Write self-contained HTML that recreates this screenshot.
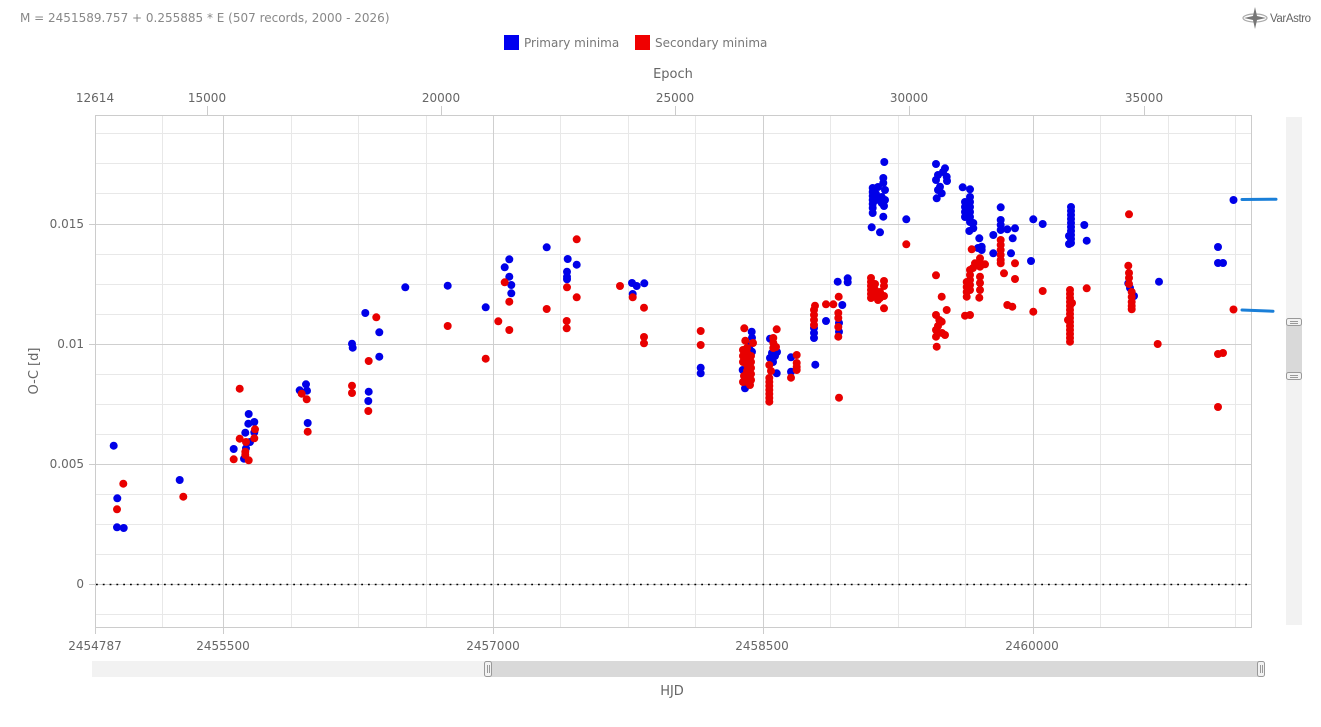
<!DOCTYPE html>
<html><head><meta charset="utf-8"><style>
html,body{margin:0;padding:0;background:#fff;}
svg{display:block;}
text{font-family:"DejaVu Sans","Liberation Sans",sans-serif;}
</style></head><body>
<svg width="1321" height="727" viewBox="0 0 1321 727" xmlns="http://www.w3.org/2000/svg">
<rect width="1321" height="727" fill="#fff"/>
<text x="20" y="22" font-size="12" fill="#888">M = 2451589.757 + 0.255885 * E (507 records, 2000 - 2026)</text>
<!-- logo -->
<g transform="translate(1255,18)">
<ellipse cx="0" cy="0" rx="12" ry="4" fill="none" stroke="#aaa" stroke-width="1.2"/>
<polygon points="0,-11 2,-2 11,0 2,2 0,11 -2,2 -11,0 -2,-2" fill="#777"/>
</g>
<text x="1270" y="22" font-size="11.5" fill="#666" font-family="Liberation Sans, sans-serif" letter-spacing="-0.4" style="font-family:'Liberation Sans',sans-serif">VarAstro</text>
<!-- legend -->
<rect x="504" y="35" width="15" height="15" fill="#0000f0"/>
<text x="524" y="47" font-size="12" fill="#777">Primary minima</text>
<rect x="635" y="35" width="15" height="15" fill="#f00000"/>
<text x="655" y="47" font-size="12" fill="#777">Secondary minima</text>
<text x="673" y="78" font-size="13" fill="#666" text-anchor="middle">Epoch</text>
<!-- top axis labels -->
<g font-size="12" fill="#666" text-anchor="middle">
<text x="95" y="102">12614</text>
<text x="207" y="102">15000</text>
<text x="441" y="102">20000</text>
<text x="675" y="102">25000</text>
<text x="909" y="102">30000</text>
<text x="1144" y="102">35000</text>
</g>
<g stroke="#ccc" stroke-width="1">
<line x1="207.5" y1="106" x2="207.5" y2="115"/>
<line x1="441.5" y1="106" x2="441.5" y2="115"/>
<line x1="675.5" y1="106" x2="675.5" y2="115"/>
<line x1="909.5" y1="106" x2="909.5" y2="115"/>
<line x1="1144.5" y1="106" x2="1144.5" y2="115"/>
</g>
<!-- grid minor -->
<g stroke="#e8e8e8" stroke-width="1">
<line x1="162.5" y1="115" x2="162.5" y2="627"/>
<line x1="291.5" y1="115" x2="291.5" y2="627"/>
<line x1="358.5" y1="115" x2="358.5" y2="627"/>
<line x1="426.5" y1="115" x2="426.5" y2="627"/>
<line x1="560.5" y1="115" x2="560.5" y2="627"/>
<line x1="628.5" y1="115" x2="628.5" y2="627"/>
<line x1="695.5" y1="115" x2="695.5" y2="627"/>
<line x1="830.5" y1="115" x2="830.5" y2="627"/>
<line x1="898.5" y1="115" x2="898.5" y2="627"/>
<line x1="965.5" y1="115" x2="965.5" y2="627"/>
<line x1="1100.5" y1="115" x2="1100.5" y2="627"/>
<line x1="1168.5" y1="115" x2="1168.5" y2="627"/>
<line x1="1235.5" y1="115" x2="1235.5" y2="627"/>
<line x1="95" y1="133.5" x2="1252" y2="133.5"/>
<line x1="95" y1="163.5" x2="1252" y2="163.5"/>
<line x1="95" y1="193.5" x2="1252" y2="193.5"/>
<line x1="95" y1="254.5" x2="1252" y2="254.5"/>
<line x1="95" y1="284.5" x2="1252" y2="284.5"/>
<line x1="95" y1="314.5" x2="1252" y2="314.5"/>
<line x1="95" y1="374.5" x2="1252" y2="374.5"/>
<line x1="95" y1="404.5" x2="1252" y2="404.5"/>
<line x1="95" y1="434.5" x2="1252" y2="434.5"/>
<line x1="95" y1="494.5" x2="1252" y2="494.5"/>
<line x1="95" y1="524.5" x2="1252" y2="524.5"/>
<line x1="95" y1="554.5" x2="1252" y2="554.5"/>
<line x1="95" y1="614.5" x2="1252" y2="614.5"/>
</g>
<g stroke="#cfcfcf" stroke-width="1">
<line x1="223.5" y1="115" x2="223.5" y2="627"/>
<line x1="493.5" y1="115" x2="493.5" y2="627"/>
<line x1="763.5" y1="115" x2="763.5" y2="627"/>
<line x1="1033.5" y1="115" x2="1033.5" y2="627"/>
<line x1="95" y1="224.5" x2="1252" y2="224.5"/>
<line x1="95" y1="344.5" x2="1252" y2="344.5"/>
<line x1="95" y1="464.5" x2="1252" y2="464.5"/>
<line x1="95" y1="584.5" x2="1252" y2="584.5"/>
</g>
<rect x="95.5" y="115.5" width="1156" height="512" fill="none" stroke="#ccc"/>
<!-- zero line -->
<line x1="96" y1="584.5" x2="1251" y2="584.5" stroke="#000" stroke-width="1.5" stroke-dasharray="1.8,5"/>
<!-- y labels -->
<g font-size="12" fill="#666" text-anchor="end">
<text x="84" y="228">0.015</text>
<text x="84" y="348">0.01</text>
<text x="84" y="468">0.005</text>
<text x="84" y="588">0</text>
</g>
<g stroke="#ccc"><line x1="89" y1="224.5" x2="95" y2="224.5"/><line x1="89" y1="344.5" x2="95" y2="344.5"/><line x1="89" y1="464.5" x2="95" y2="464.5"/><line x1="89" y1="584.5" x2="95" y2="584.5"/></g>
<text transform="translate(38,371) rotate(-90)" font-size="13" fill="#666" text-anchor="middle">O-C [d]</text>
<!-- bottom axis -->
<g stroke="#ccc"><line x1="95.5" y1="627" x2="95.5" y2="634"/><line x1="223.5" y1="627" x2="223.5" y2="634"/><line x1="493.5" y1="627" x2="493.5" y2="634"/><line x1="763.5" y1="627" x2="763.5" y2="634"/><line x1="1033.5" y1="627" x2="1033.5" y2="634"/></g>
<g font-size="12" fill="#666" text-anchor="middle">
<text x="95" y="650">2454787</text>
<text x="223" y="650">2455500</text>
<text x="493" y="650">2457000</text>
<text x="762" y="650">2458500</text>
<text x="1032" y="650">2460000</text>
</g>
<!-- navigator -->
<rect x="92" y="661" width="1170" height="16" fill="#f2f2f2"/>
<rect x="488" y="661" width="773" height="16" fill="#d9d9d9"/>
<g fill="#f2f2f2" stroke="#999" stroke-width="1">
<rect x="484.5" y="661.5" width="7" height="15" rx="2"/>
<rect x="1257.5" y="661.5" width="7" height="15" rx="2"/>
</g>
<g stroke="#999"><line x1="487.5" y1="665" x2="487.5" y2="673"/><line x1="489.5" y1="665" x2="489.5" y2="673"/><line x1="1260.5" y1="665" x2="1260.5" y2="673"/><line x1="1262.5" y1="665" x2="1262.5" y2="673"/></g>
<text x="672" y="695" font-size="13" fill="#666" text-anchor="middle">HJD</text>
<!-- right scrollbar -->
<rect x="1286" y="117" width="16" height="508" fill="#f2f2f2"/>
<rect x="1286" y="322" width="16" height="54" fill="#d9d9d9"/>
<g fill="#f2f2f2" stroke="#999">
<rect x="1286.5" y="318.5" width="15" height="7" rx="2"/>
<rect x="1286.5" y="372.5" width="15" height="7" rx="2"/>
</g>
<g stroke="#999"><line x1="1290" y1="321.5" x2="1298" y2="321.5"/><line x1="1290" y1="323.5" x2="1298" y2="323.5"/><line x1="1290" y1="375.5" x2="1298" y2="375.5"/><line x1="1290" y1="377.5" x2="1298" y2="377.5"/></g>
<!-- BLUE points -->
<g fill="#0000e8">
<circle cx="113.7" cy="445.7" r="4"/><circle cx="117.3" cy="498.3" r="4"/><circle cx="117" cy="527.3" r="4"/><circle cx="123.7" cy="528" r="4"/><circle cx="179.7" cy="480" r="4"/>
<circle cx="248.7" cy="414" r="4"/><circle cx="248.3" cy="423.7" r="4"/><circle cx="254.3" cy="422" r="4"/><circle cx="245.3" cy="432.7" r="4"/><circle cx="254.3" cy="432.3" r="4"/><circle cx="250" cy="442" r="4"/><circle cx="233.7" cy="449" r="4"/><circle cx="246" cy="448.3" r="4"/><circle cx="244" cy="458.7" r="4"/>
<circle cx="306" cy="384.3" r="4"/><circle cx="299.7" cy="390.3" r="4"/><circle cx="307" cy="390.7" r="4"/><circle cx="307.7" cy="423" r="4"/>
<circle cx="352" cy="343.7" r="4"/><circle cx="352.7" cy="347.7" r="4"/><circle cx="365.3" cy="313" r="4"/><circle cx="379.3" cy="332.3" r="4"/><circle cx="379.3" cy="356.7" r="4"/><circle cx="368.7" cy="391.7" r="4"/><circle cx="368.3" cy="401" r="4"/><circle cx="405.3" cy="287.3" r="4"/>
<circle cx="447.7" cy="285.7" r="4"/><circle cx="485.7" cy="307.3" r="4"/><circle cx="509.3" cy="259.3" r="4"/><circle cx="504.7" cy="267.3" r="4"/><circle cx="509.3" cy="276.7" r="4"/><circle cx="511.3" cy="285" r="4"/><circle cx="511.3" cy="293.3" r="4"/><circle cx="546.7" cy="247.3" r="4"/><circle cx="567.7" cy="259" r="4"/><circle cx="576.7" cy="264.7" r="4"/><circle cx="567" cy="271.7" r="4"/><circle cx="567" cy="276.7" r="4"/><circle cx="567" cy="279.3" r="4"/><circle cx="632" cy="283" r="4"/><circle cx="636.7" cy="286" r="4"/><circle cx="644.3" cy="283.3" r="4"/><circle cx="632.7" cy="294" r="4"/><circle cx="700.7" cy="367.7" r="4"/><circle cx="700.7" cy="373.3" r="4"/>
<circle cx="751.7" cy="331.7" r="4"/><circle cx="752" cy="337.7" r="4"/><circle cx="752" cy="351.7" r="4"/><circle cx="742.7" cy="370" r="4"/><circle cx="745" cy="388.3" r="4"/><circle cx="748" cy="355" r="4"/><circle cx="745" cy="362" r="4"/><circle cx="750" cy="345" r="4"/>
<circle cx="770" cy="338.7" r="4"/><circle cx="772" cy="353" r="4"/><circle cx="775" cy="356" r="4"/><circle cx="773" cy="362" r="4"/><circle cx="770" cy="358" r="4"/><circle cx="776.7" cy="373.3" r="4"/><circle cx="777" cy="352" r="4"/>
<circle cx="791" cy="357.3" r="4"/><circle cx="791" cy="371.7" r="4"/>
<circle cx="814" cy="328" r="4"/><circle cx="814" cy="333" r="4"/><circle cx="814" cy="338" r="4"/><circle cx="815.3" cy="364.7" r="4"/><circle cx="826" cy="321" r="4"/>
<circle cx="839" cy="323" r="4"/><circle cx="839" cy="331.7" r="4"/><circle cx="842.3" cy="305" r="4"/><circle cx="837.7" cy="281.7" r="4"/><circle cx="847.7" cy="278.3" r="4"/><circle cx="847.7" cy="282.3" r="4"/>
<circle cx="884.3" cy="162" r="4"/><circle cx="883.3" cy="178" r="4"/><circle cx="883.3" cy="183" r="4"/><circle cx="881.7" cy="197" r="4"/><circle cx="881.7" cy="203" r="4"/><circle cx="883.3" cy="216.7" r="4"/><circle cx="871.7" cy="227.3" r="4"/><circle cx="880" cy="232.3" r="4"/>
<circle cx="872.7" cy="188" r="4"/><circle cx="872.7" cy="192" r="4"/><circle cx="872.7" cy="196" r="4"/><circle cx="872.7" cy="200" r="4"/><circle cx="872.7" cy="204" r="4"/><circle cx="872.7" cy="208" r="4"/><circle cx="872.7" cy="213" r="4"/><circle cx="876" cy="194" r="4"/><circle cx="876" cy="200" r="4"/><circle cx="878" cy="187" r="4"/><circle cx="885" cy="190" r="4"/><circle cx="885" cy="200" r="4"/><circle cx="884" cy="206" r="4"/>
<circle cx="906.3" cy="219.3" r="4"/>
<circle cx="936" cy="164" r="4"/><circle cx="945" cy="168.3" r="4"/><circle cx="946.7" cy="176.7" r="4"/><circle cx="936" cy="180" r="4"/><circle cx="940" cy="186.7" r="4"/><circle cx="936.7" cy="198.3" r="4"/><circle cx="941.7" cy="193.3" r="4"/><circle cx="943" cy="172" r="4"/><circle cx="938" cy="175" r="4"/><circle cx="947" cy="181" r="4"/><circle cx="938" cy="190" r="4"/>
<circle cx="962.7" cy="187.3" r="4"/><circle cx="970" cy="189.3" r="4"/><circle cx="965" cy="202" r="4"/><circle cx="965" cy="207" r="4"/><circle cx="965" cy="212" r="4"/><circle cx="965" cy="217" r="4"/><circle cx="970" cy="197" r="4"/><circle cx="970" cy="202" r="4"/><circle cx="970" cy="207" r="4"/><circle cx="970" cy="212" r="4"/><circle cx="970" cy="217" r="4"/><circle cx="970" cy="222" r="4"/><circle cx="973.3" cy="223" r="4"/><circle cx="973.3" cy="228.3" r="4"/><circle cx="969.3" cy="231" r="4"/><circle cx="979.3" cy="238.3" r="4"/><circle cx="981.7" cy="246.7" r="4"/><circle cx="981.7" cy="250" r="4"/><circle cx="978" cy="248" r="4"/><circle cx="993.3" cy="235" r="4"/><circle cx="993.3" cy="253.3" r="4"/><circle cx="1000.7" cy="207.3" r="4"/><circle cx="1000.7" cy="220" r="4"/><circle cx="1000.7" cy="225" r="4"/><circle cx="1000.7" cy="230" r="4"/><circle cx="1007.3" cy="229.3" r="4"/><circle cx="1015" cy="228.3" r="4"/><circle cx="1012.7" cy="238.3" r="4"/><circle cx="1011" cy="253.3" r="4"/><circle cx="1033.3" cy="219.3" r="4"/><circle cx="1042.7" cy="224" r="4"/><circle cx="1031" cy="261" r="4"/>
<circle cx="1071" cy="207" r="4"/><circle cx="1071" cy="211" r="4"/><circle cx="1071" cy="215" r="4"/><circle cx="1071" cy="219" r="4"/><circle cx="1071" cy="223" r="4"/><circle cx="1071" cy="227" r="4"/><circle cx="1071" cy="231" r="4"/><circle cx="1071" cy="235" r="4"/><circle cx="1071" cy="239" r="4"/><circle cx="1071" cy="243" r="4"/><circle cx="1069" cy="236" r="4"/><circle cx="1069" cy="244" r="4"/><circle cx="1084.3" cy="225" r="4"/><circle cx="1086.7" cy="240.7" r="4"/>
<circle cx="1128.3" cy="283.3" r="4"/><circle cx="1132.3" cy="296.7" r="4"/><circle cx="1134" cy="296" r="4"/><circle cx="1130" cy="288" r="4"/>
<circle cx="1159" cy="281.7" r="4"/>
<circle cx="1218" cy="247" r="4"/><circle cx="1218" cy="263" r="4"/><circle cx="1223" cy="263" r="4"/><circle cx="1233.5" cy="200" r="4"/>
</g>
<!-- RED points -->
<g fill="#e80000">
<circle cx="123.3" cy="483.7" r="4"/><circle cx="117" cy="509.3" r="4"/><circle cx="183.3" cy="496.7" r="4"/>
<circle cx="239.7" cy="388.7" r="4"/><circle cx="239.7" cy="438.7" r="4"/><circle cx="255" cy="429.3" r="4"/><circle cx="254.3" cy="438.3" r="4"/><circle cx="246" cy="442" r="4"/><circle cx="245.3" cy="451.7" r="4"/><circle cx="245.3" cy="455" r="4"/><circle cx="233.7" cy="459.3" r="4"/><circle cx="248.7" cy="460.3" r="4"/>
<circle cx="301.7" cy="393.7" r="4"/><circle cx="306.7" cy="399.3" r="4"/><circle cx="307.7" cy="431.7" r="4"/>
<circle cx="376.3" cy="317.3" r="4"/><circle cx="368.7" cy="361" r="4"/><circle cx="352" cy="385.7" r="4"/><circle cx="352" cy="393" r="4"/><circle cx="368.3" cy="411" r="4"/>
<circle cx="447.7" cy="326" r="4"/><circle cx="485.7" cy="358.7" r="4"/><circle cx="504.7" cy="282.3" r="4"/><circle cx="509.3" cy="301.7" r="4"/><circle cx="498.3" cy="321.3" r="4"/><circle cx="509.3" cy="330" r="4"/><circle cx="576.7" cy="239.3" r="4"/><circle cx="567" cy="287.3" r="4"/><circle cx="576.7" cy="297.3" r="4"/><circle cx="546.7" cy="309" r="4"/><circle cx="566.7" cy="321" r="4"/><circle cx="566.7" cy="328.3" r="4"/><circle cx="620" cy="286" r="4"/><circle cx="632.7" cy="297.3" r="4"/><circle cx="644" cy="307.7" r="4"/><circle cx="644" cy="337" r="4"/><circle cx="644" cy="343.3" r="4"/><circle cx="700.7" cy="331" r="4"/><circle cx="700.7" cy="345" r="4"/>
<circle cx="744.3" cy="328.3" r="4"/><circle cx="745.3" cy="340.7" r="4"/>
<circle cx="743" cy="350" r="4"/><circle cx="743" cy="356" r="4"/><circle cx="743" cy="362" r="4"/><circle cx="744" cy="376" r="4"/><circle cx="743" cy="382" r="4"/>
<circle cx="747" cy="348" r="4"/><circle cx="747" cy="353" r="4"/><circle cx="747" cy="359" r="4"/><circle cx="747" cy="365" r="4"/><circle cx="747" cy="371" r="4"/><circle cx="747" cy="377" r="4"/><circle cx="747" cy="382" r="4"/>
<circle cx="751" cy="356" r="4"/><circle cx="751" cy="362" r="4"/><circle cx="751" cy="368" r="4"/><circle cx="751" cy="374" r="4"/><circle cx="751" cy="380" r="4"/><circle cx="750" cy="385" r="4"/><circle cx="753" cy="343" r="4"/>
<circle cx="776.7" cy="329.3" r="4"/><circle cx="773.3" cy="338" r="4"/><circle cx="773.3" cy="343" r="4"/><circle cx="773.3" cy="348" r="4"/><circle cx="776" cy="347" r="4"/><circle cx="769.3" cy="365" r="4"/><circle cx="769.3" cy="378" r="4"/><circle cx="769.3" cy="382" r="4"/><circle cx="769.3" cy="386" r="4"/><circle cx="769.3" cy="390" r="4"/><circle cx="769.3" cy="394" r="4"/><circle cx="769.3" cy="398" r="4"/><circle cx="769.3" cy="401.7" r="4"/><circle cx="771" cy="371" r="4"/>
<circle cx="796.7" cy="355" r="4"/><circle cx="796.7" cy="363" r="4"/><circle cx="796.7" cy="367" r="4"/><circle cx="796.7" cy="370" r="4"/><circle cx="791" cy="377.7" r="4"/>
<circle cx="815" cy="305.7" r="4"/><circle cx="814" cy="310" r="4"/><circle cx="814" cy="315" r="4"/><circle cx="814" cy="320" r="4"/><circle cx="814" cy="325" r="4"/><circle cx="826" cy="304.3" r="4"/><circle cx="833.3" cy="304.3" r="4"/>
<circle cx="838.7" cy="296.7" r="4"/><circle cx="838.3" cy="313" r="4"/><circle cx="838.3" cy="318" r="4"/><circle cx="838.3" cy="327" r="4"/><circle cx="838.3" cy="336.7" r="4"/><circle cx="839" cy="397.7" r="4"/>
<circle cx="871" cy="278" r="4"/><circle cx="871" cy="282" r="4"/><circle cx="871" cy="286" r="4"/><circle cx="871" cy="290" r="4"/><circle cx="871" cy="294" r="4"/><circle cx="871" cy="298" r="4"/><circle cx="875" cy="284" r="4"/><circle cx="875" cy="290" r="4"/><circle cx="875" cy="296" r="4"/><circle cx="884" cy="281" r="4"/><circle cx="884" cy="286" r="4"/><circle cx="880" cy="292" r="4"/><circle cx="884" cy="296" r="4"/><circle cx="880" cy="298" r="4"/><circle cx="884" cy="308.3" r="4"/><circle cx="878" cy="300" r="4"/>
<circle cx="906.3" cy="244.3" r="4"/>
<circle cx="936" cy="275.3" r="4"/><circle cx="941.7" cy="296.7" r="4"/><circle cx="946.7" cy="310" r="4"/><circle cx="936" cy="315" r="4"/><circle cx="939.3" cy="320" r="4"/><circle cx="941.7" cy="321.7" r="4"/><circle cx="936" cy="330" r="4"/><circle cx="936" cy="336.7" r="4"/><circle cx="945" cy="335" r="4"/><circle cx="936.7" cy="346.7" r="4"/><circle cx="938" cy="326" r="4"/><circle cx="942" cy="333" r="4"/>
<circle cx="971.7" cy="249.3" r="4"/><circle cx="980" cy="258.3" r="4"/><circle cx="980" cy="263" r="4"/><circle cx="980" cy="266.7" r="4"/><circle cx="985" cy="264.3" r="4"/><circle cx="975" cy="263.3" r="4"/><circle cx="970" cy="270" r="4"/><circle cx="970" cy="275" r="4"/><circle cx="970" cy="280" r="4"/><circle cx="970" cy="285" r="4"/><circle cx="970" cy="290" r="4"/><circle cx="966.7" cy="282" r="4"/><circle cx="966.7" cy="287" r="4"/><circle cx="966.7" cy="292" r="4"/><circle cx="966.7" cy="296.7" r="4"/><circle cx="965" cy="315.7" r="4"/><circle cx="970" cy="315" r="4"/><circle cx="980" cy="276.7" r="4"/><circle cx="980" cy="283" r="4"/><circle cx="980" cy="290" r="4"/><circle cx="979.3" cy="297.7" r="4"/><circle cx="973" cy="268" r="4"/>
<circle cx="1000.7" cy="240" r="4"/><circle cx="1000.7" cy="245" r="4"/><circle cx="1000.7" cy="250" r="4"/><circle cx="1000.7" cy="255" r="4"/><circle cx="1000.7" cy="260" r="4"/><circle cx="1000.7" cy="263.3" r="4"/><circle cx="1004" cy="273.3" r="4"/><circle cx="1007.3" cy="305" r="4"/><circle cx="1012.3" cy="306.7" r="4"/><circle cx="1015" cy="263.3" r="4"/><circle cx="1015" cy="279" r="4"/><circle cx="1033.3" cy="311.7" r="4"/><circle cx="1042.7" cy="291" r="4"/>
<circle cx="1070" cy="290" r="4"/><circle cx="1070" cy="294" r="4"/><circle cx="1070" cy="298" r="4"/><circle cx="1070" cy="302" r="4"/><circle cx="1070" cy="306" r="4"/><circle cx="1070" cy="310" r="4"/><circle cx="1070" cy="314" r="4"/><circle cx="1070" cy="318" r="4"/><circle cx="1070" cy="322" r="4"/><circle cx="1070" cy="326" r="4"/><circle cx="1070" cy="330" r="4"/><circle cx="1070" cy="334" r="4"/><circle cx="1070" cy="338" r="4"/><circle cx="1070" cy="341.7" r="4"/><circle cx="1068" cy="320" r="4"/><circle cx="1072" cy="303" r="4"/><circle cx="1086.7" cy="288.3" r="4"/>
<circle cx="1129" cy="214.3" r="4"/><circle cx="1128.3" cy="265.7" r="4"/><circle cx="1129" cy="273" r="4"/><circle cx="1129" cy="278" r="4"/><circle cx="1129" cy="284" r="4"/><circle cx="1131.7" cy="292" r="4"/><circle cx="1131.7" cy="297" r="4"/><circle cx="1131.7" cy="302" r="4"/><circle cx="1131.7" cy="306" r="4"/><circle cx="1131.7" cy="309.3" r="4"/>
<circle cx="1157.7" cy="344" r="4"/>
<circle cx="1218" cy="354" r="4"/><circle cx="1223" cy="353" r="4"/><circle cx="1218" cy="407" r="4"/><circle cx="1233.5" cy="309.5" r="4"/>
</g>
<!-- trend markers -->
<g stroke="#1a7fd8" stroke-width="3" stroke-linecap="round">
<line x1="1242" y1="199.5" x2="1276" y2="199.2"/>
<line x1="1242" y1="310" x2="1273" y2="311.2"/>
</g>
</svg>
</body></html>
